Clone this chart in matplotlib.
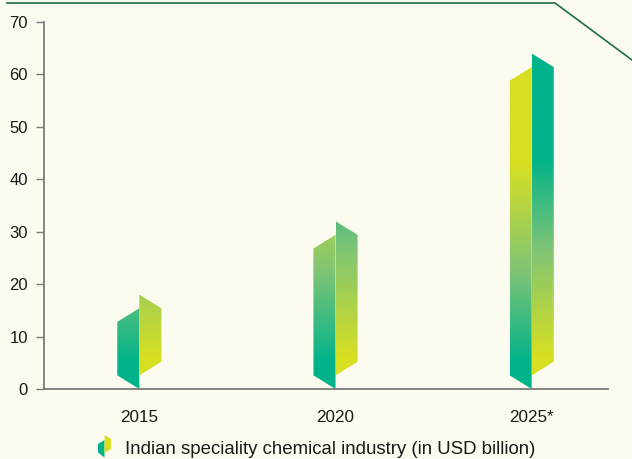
import matplotlib
matplotlib.use("Agg")
import matplotlib.pyplot as plt
import numpy as np
from matplotlib.patches import Polygon
from matplotlib.colors import LinearSegmentedColormap
from matplotlib.lines import Line2D

# ---- data ----
categories = ["2015", "2020", "2025*"]
values = [18, 32, 64]
yticks = [0, 10, 20, 30, 40, 50, 60, 70]
legend_label = "Indian speciality chemical industry (in USD billion)"

# ---- style ----
BG = "#FBFBEF"
TEAL = "#00B38A"
GREEN = "#7EC476"
YELLOW = "#D8DF22"
AXC = "#7A7A7A"
plt.rcParams["font.family"] = ["Liberation Sans", "DejaVu Sans"]

W, H = 632, 459
fig = plt.figure(figsize=(W / 100, H / 100), dpi=100, facecolor=BG)
ax = fig.add_axes([44 / W, 1 - 389 / H, (608 - 44) / W, (389 - 22) / H], facecolor=BG)

ax.set_ylim(0, 70)
ax.set_xlim(-0.486, 2.389)

cmap = LinearSegmentedColormap.from_list("tg", [(0, TEAL), (0.45, GREEN), (1, YELLOW)])
hw = 0.1125   # half-width of the ribbon (one panel)
d = 2.6       # slant in data units

def grad_panel(poly, x0, x1, ytop, low_val, high_val, reverse):
    patch = Polygon(poly, closed=True, facecolor="none", edgecolor="none")
    ax.add_patch(patch)
    ys = np.linspace(0, ytop, 400)
    t = np.clip((ys - low_val) / (high_val - low_val), 0, 1)
    if reverse:
        t = 1 - t
    img = t[::-1].reshape(-1, 1)
    im = ax.imshow(img, cmap=cmap, vmin=0, vmax=1, extent=[x0, x1, 0, ytop],
                   aspect="auto", interpolation="bilinear", zorder=2)
    im.set_clip_path(patch)

for i, v in enumerate(values):
    c = i
    left = [(c - hw, d), (c, 0), (c, v - d), (c - hw, v - 2 * d)]
    right = [(c, d), (c + hw, 2 * d), (c + hw, v - d), (c, v)]
    grad_panel(left, c - hw, c, v, 5, 43, reverse=False)
    grad_panel(right, c, c + hw, v, 6, 44, reverse=True)

ax.set_xticks(range(len(categories)))
ax.set_xticklabels(categories)
ax.set_yticks(yticks)
ax.tick_params(axis="x", length=0, pad=15, labelsize=12.3, colors="#1a1a1a")
ax.tick_params(axis="y", length=6, width=1, color=AXC, pad=5.5, labelsize=12, labelcolor="#1a1a1a")
for s in ["top", "right"]:
    ax.spines[s].set_visible(False)
for s in ["left", "bottom"]:
    ax.spines[s].set_color(AXC)
    ax.spines[s].set_linewidth(1.3)

# decorative top line
fig.add_artist(Line2D([7 / W, 555 / W, 1.0], [1 - 3 / H, 1 - 3 / H, 1 - 60 / H],
                      transform=fig.transFigure, color="#1E6B4C", lw=1.2))

# legend icon
def fig_poly(pts, color):
    p = Polygon([(x / W, 1 - y / H) for x, y in pts], closed=True,
                transform=fig.transFigure, facecolor=color, edgecolor="none")
    fig.add_artist(p)

fig_poly([(98, 452.5), (104.5, 457.5), (104.5, 440), (98, 444)], TEAL)
fig_poly([(104.5, 453), (111, 449), (111, 439), (104.5, 435)], YELLOW)
fig.text(125 / W, 1 - 449 / H, legend_label, fontsize=13.4, color="#1a1a1a",
         va="center", ha="left")

fig.savefig("out.png", dpi=100, facecolor=BG)
